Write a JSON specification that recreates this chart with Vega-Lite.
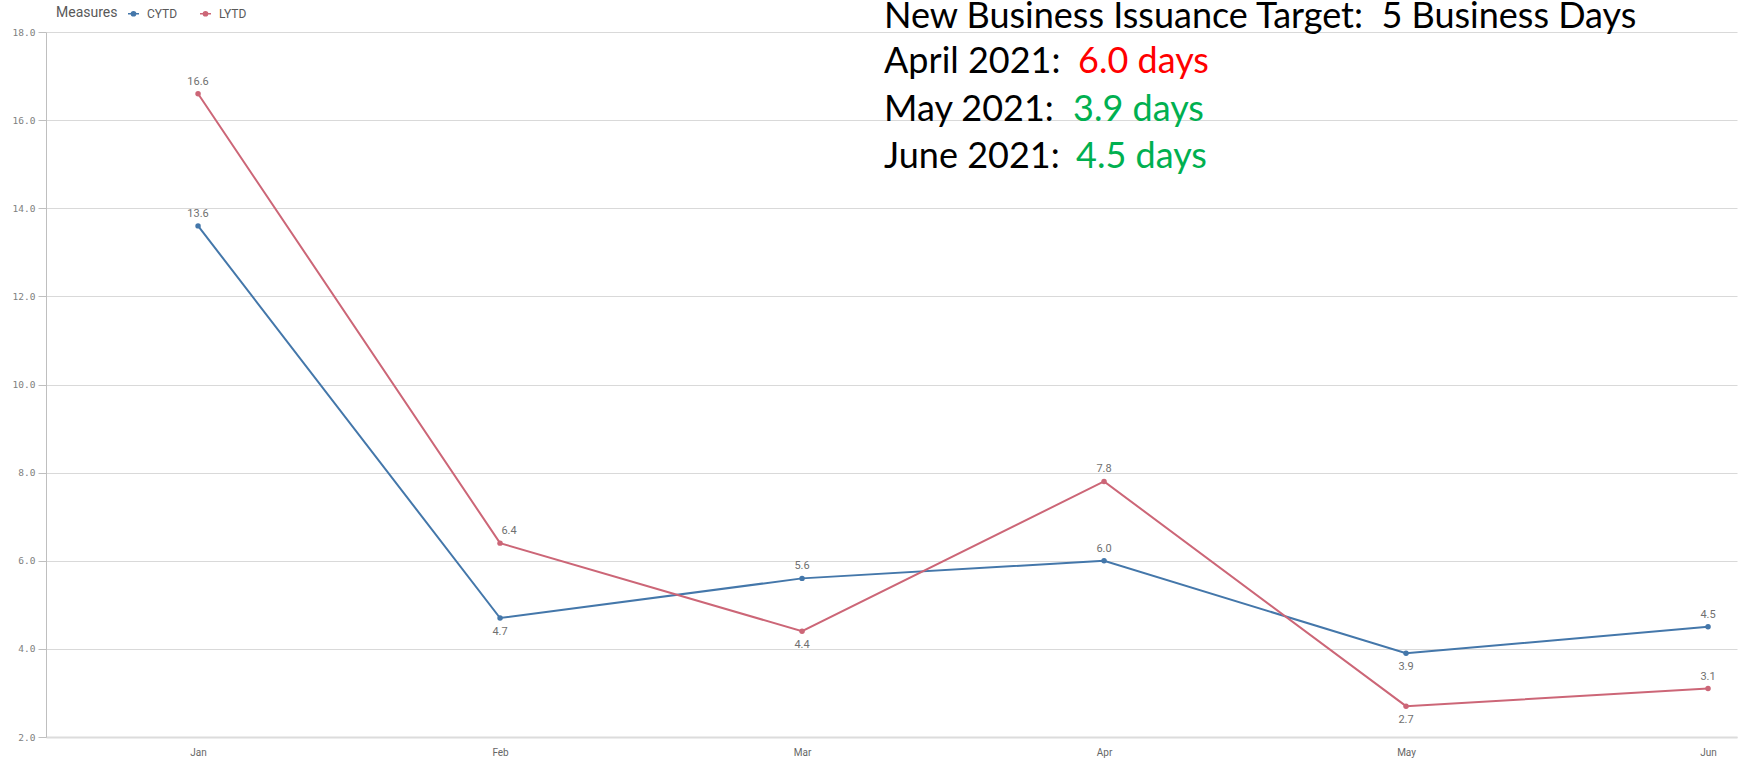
{
  "$schema": "https://vega.github.io/schema/vega-lite/v6.json",
  "width": 1691,
  "height": 705,
  "autosize": {"type": "none"},
  "padding": {"left": 46, "top": 32, "right": 6, "bottom": 26},
  "background": "white",
  "config": {"view": {"stroke": null}, "font": "Roboto"},
  "datasets": {
    "series": [
      {"month": "Jan", "measure": "CYTD", "days": 13.6},
      {"month": "Feb", "measure": "CYTD", "days": 4.7},
      {"month": "Mar", "measure": "CYTD", "days": 5.6},
      {"month": "Apr", "measure": "CYTD", "days": 6.0},
      {"month": "May", "measure": "CYTD", "days": 3.9},
      {"month": "Jun", "measure": "CYTD", "days": 4.5},
      {"month": "Jan", "measure": "LYTD", "days": 16.6},
      {"month": "Feb", "measure": "LYTD", "days": 6.4},
      {"month": "Mar", "measure": "LYTD", "days": 4.4},
      {"month": "Apr", "measure": "LYTD", "days": 7.8},
      {"month": "May", "measure": "LYTD", "days": 2.7},
      {"month": "Jun", "measure": "LYTD", "days": 3.1}
    ],
    "notes": [
      {"line": "head", "label": "New Business Issuance Target:\u00a0 5 Business Days"},
      {"line": "apr", "label": "April 2021:", "value": "6.0 days", "status": "over"},
      {"line": "may", "label": "May 2021:", "value": "3.9 days", "status": "under"},
      {"line": "jun", "label": "June 2021:", "value": "4.5 days", "status": "under"}
    ]
  },
  "layer": [
    {
      "data": {"name": "series"},
      "mark": {"type": "line", "strokeWidth": 2},
      "encoding": {
        "x": {
          "field": "month", "type": "ordinal", "sort": ["Jan", "Feb", "Mar", "Apr", "May", "Jun"],
          "scale": {"type": "point", "range": [0, 1691], "padding": 0.2997, "align": 0.84},
          "axis": {"title": null, "labelAngle": 0, "ticks": false, "domain": true, "domainColor": "#dcdcdc", "domainWidth": 2, "labelPadding": 10, "labelColor": "#666666", "labelFontSize": 10, "grid": false}
        },
        "y": {
          "field": "days", "type": "quantitative",
          "scale": {"domain": [2, 18], "nice": false, "zero": false},
          "axis": {"title": null, "values": [2, 4, 6, 8, 10, 12, 14, 16, 18], "format": ".1f", "grid": true, "gridColor": "#d9d9d9", "domainColor": "#bfbfbf", "tickColor": "#bfbfbf", "tickSize": 8, "labelPadding": 3, "labelFont": "DejaVu Sans Mono", "labelFontSize": 9.5, "labelColor": "#808080"}
        },
        "color": {
          "field": "measure", "type": "nominal",
          "scale": {"domain": ["CYTD", "LYTD"], "range": ["#4477aa", "#cc6677"]},
          "legend": {"title": "Measures", "orient": "none", "legendX": 10, "legendY": -25, "direction": "horizontal", "titleOrient": "left", "titleColor": "#595959", "titleFontSize": 14, "titleFontWeight": "normal", "titleBaseline": "middle", "titlePadding": 9, "labelColor": "#595959", "labelFontSize": 12, "labelOffset": 7, "columnPadding": 19, "symbolType": "M-1,0L1,0M-0.38,0A0.38,0.38,0,1,1,0.38,0A0.38,0.38,0,1,1,-0.38,0Z", "symbolSize": 121, "symbolStrokeWidth": 1.5}
        }
      }
    },
    {
      "data": {"name": "series"},
      "mark": {"type": "point", "filled": true, "size": 30, "opacity": 1},
      "encoding": {
        "x": {"field": "month", "type": "ordinal", "sort": ["Jan", "Feb", "Mar", "Apr", "May", "Jun"]},
        "y": {"field": "days", "type": "quantitative"},
        "color": {"field": "measure", "type": "nominal"}
      }
    },
    {
      "data": {"name": "series"},
      "transform": [{"filter": "!((datum.measure == 'CYTD' && (datum.month == 'Feb' || datum.month == 'May')) || (datum.measure == 'LYTD' && (datum.month == 'Mar' || datum.month == 'May' || datum.month == 'Feb')))"}],
      "mark": {"type": "text", "dy": -12, "fontSize": 11, "color": "#707070"},
      "encoding": {
        "x": {"field": "month", "type": "ordinal", "sort": ["Jan", "Feb", "Mar", "Apr", "May", "Jun"]},
        "y": {"field": "days", "type": "quantitative"},
        "text": {"field": "days", "type": "quantitative", "format": ".1f"}
      }
    },
    {
      "data": {"name": "series"},
      "transform": [{"filter": "datum.measure == 'LYTD' && datum.month == 'Feb'"}],
      "mark": {"type": "text", "dy": -12, "dx": 9, "fontSize": 11, "color": "#707070"},
      "encoding": {
        "x": {"field": "month", "type": "ordinal", "sort": ["Jan", "Feb", "Mar", "Apr", "May", "Jun"]},
        "y": {"field": "days", "type": "quantitative"},
        "text": {"field": "days", "type": "quantitative", "format": ".1f"}
      }
    },
    {
      "data": {"name": "series"},
      "transform": [{"filter": "(datum.measure == 'CYTD' && (datum.month == 'Feb' || datum.month == 'May')) || (datum.measure == 'LYTD' && (datum.month == 'Mar' || datum.month == 'May'))"}],
      "mark": {"type": "text", "dy": 14, "fontSize": 11, "color": "#707070"},
      "encoding": {
        "x": {"field": "month", "type": "ordinal", "sort": ["Jan", "Feb", "Mar", "Apr", "May", "Jun"]},
        "y": {"field": "days", "type": "quantitative"},
        "text": {"field": "days", "type": "quantitative", "format": ".1f"}
      }
    },
    {
      "data": {"name": "notes"},
      "transform": [{"filter": "datum.line == 'head'"}],
      "mark": {"type": "text", "align": "left", "baseline": "alphabetic", "dx": 82, "font": "Lato", "fontSize": 36, "color": "#000000"},
      "encoding": {"x": {"datum": "Mar", "type": "ordinal"}, "y": {"datum": 18.1, "type": "quantitative"}, "text": {"field": "label"}}
    },
    {
      "data": {"name": "notes"},
      "transform": [{"filter": "datum.line == 'apr'"}],
      "mark": {"type": "text", "align": "left", "baseline": "alphabetic", "dx": 82, "font": "Lato", "fontSize": 36, "color": "#000000"},
      "encoding": {"x": {"datum": "Mar", "type": "ordinal"}, "y": {"datum": 17.07, "type": "quantitative"}, "text": {"field": "label"}}
    },
    {
      "data": {"name": "notes"},
      "transform": [{"filter": "datum.line == 'may'"}],
      "mark": {"type": "text", "align": "left", "baseline": "alphabetic", "dx": 82, "font": "Lato", "fontSize": 36, "color": "#000000"},
      "encoding": {"x": {"datum": "Mar", "type": "ordinal"}, "y": {"datum": 15.98, "type": "quantitative"}, "text": {"field": "label"}}
    },
    {
      "data": {"name": "notes"},
      "transform": [{"filter": "datum.line == 'jun'"}],
      "mark": {"type": "text", "align": "left", "baseline": "alphabetic", "dx": 82, "font": "Lato", "fontSize": 36, "color": "#000000"},
      "encoding": {"x": {"datum": "Mar", "type": "ordinal"}, "y": {"datum": 14.913, "type": "quantitative"}, "text": {"field": "label"}}
    },
    {
      "data": {"name": "notes"},
      "transform": [{"filter": "datum.line == 'apr'"}],
      "mark": {"type": "text", "align": "left", "baseline": "alphabetic", "dx": -26, "font": "Lato", "fontSize": 36, "color": "#ff0000"},
      "encoding": {"x": {"datum": "Apr", "type": "ordinal"}, "y": {"datum": 17.07, "type": "quantitative"}, "text": {"field": "value"}}
    },
    {
      "data": {"name": "notes"},
      "transform": [{"filter": "datum.line == 'may'"}],
      "mark": {"type": "text", "align": "left", "baseline": "alphabetic", "dx": -31, "font": "Lato", "fontSize": 36, "color": "#00b050"},
      "encoding": {"x": {"datum": "Apr", "type": "ordinal"}, "y": {"datum": 15.98, "type": "quantitative"}, "text": {"field": "value"}}
    },
    {
      "data": {"name": "notes"},
      "transform": [{"filter": "datum.line == 'jun'"}],
      "mark": {"type": "text", "align": "left", "baseline": "alphabetic", "dx": -28, "font": "Lato", "fontSize": 36, "color": "#00b050"},
      "encoding": {"x": {"datum": "Apr", "type": "ordinal"}, "y": {"datum": 14.913, "type": "quantitative"}, "text": {"field": "value"}}
    }
  ]
}
